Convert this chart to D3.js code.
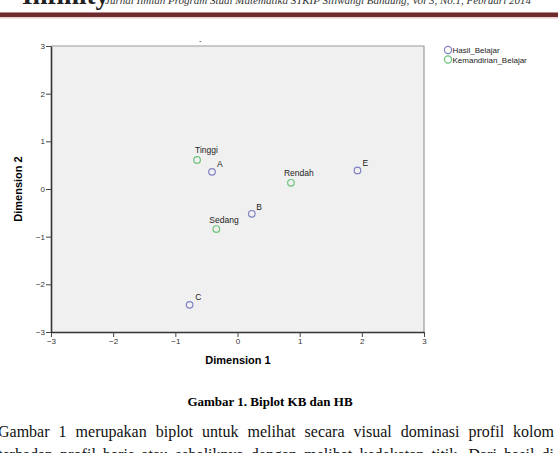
<!DOCTYPE html>
<html>
<head>
<meta charset="utf-8">
<script src="https://cdn.jsdelivr.net/npm/d3@7"></script>
<style>
  body { margin: 0; background: #fff; }
  svg { display: block; }
</style>
</head>
<body>
<div id="page"></div>
<script>
// data
const hasilLabels = ["A", "B", "C", "E"];
const hasilDim1 = [-0.41, 0.23, -0.77, 1.93];
const hasilDim2 = [0.36, -0.52, -2.43, 0.39];

const mandiriLabels = ["Tinggi", "Rendah", "Sedang"];
const mandiriDim1 = [-0.65, 0.86, -0.34];
const mandiriDim2 = [0.61, 0.13, -0.84];

const xTicks = [-3, -2, -1, 0, 1, 2, 3];
const yTicks = [-3, -2, -1, 0, 1, 2, 3];
const legendNames = ["Hasil_Belajar", "Kemandirian_Belajar"];

const W = 558, H = 453;
const margin = {top: 46, left: 51};
const width = 373, height = 286;
const sans = "'Liberation Sans', Arial, sans-serif";
const serif = "'Liberation Serif', 'Times New Roman', serif";
const blue = "#7f82c4", green = "#6cc47a";

const svg = d3.select("#page").append("svg")
  .attr("width", W).attr("height", H);

/* page header (cut off at the top) */
svg.append("text")
  .attr("x", 22).attr("y", 4)
  .style("font-family", serif).style("font-weight", "bold")
  .style("font-size", "27px").attr("fill", "#222")
  .text("Infinity");
svg.append("text")
  .attr("x", 105).attr("y", 4)
  .style("font-family", serif).style("font-style", "italic")
  .style("font-size", "11px").attr("fill", "#333")
  .text("Jurnal Ilmiah Program Studi Matematika STKIP Siliwangi Bandung, Vol 3, No.1, Februari 2014");
svg.append("rect").attr("x", 0).attr("y", 12).attr("width", W).attr("height", 5).attr("fill", "#6e2a2c");
svg.append("rect").attr("x", 0).attr("y", 12).attr("width", W).attr("height", 1).attr("fill", "#b58a8a");
svg.append("rect").attr("x", 0).attr("y", 17.5).attr("width", W).attr("height", 0.8).attr("fill", "#c9a9a9");

/* chart */
const g = svg.append("g")
  .attr("transform", `translate(${margin.left},${margin.top})`);

const xScale = d3.scaleLinear().domain([-3, 3]).range([0, width]);
const yScale = d3.scaleLinear().domain([-3, 3]).range([height, 0]);

g.append("rect")
  .attr("width", width).attr("height", height)
  .attr("fill", "#f0f0f0");
g.append("path")
  .attr("d", `M0,0H${width}V${height}`)
  .attr("fill", "none").attr("stroke", "#9a9a9a").attr("stroke-width", 1.2);

const fmt = d3.format("d");
const xAxis = g.append("g")
  .attr("transform", `translate(0,${height})`)
  .call(d3.axisBottom(xScale).tickValues(xTicks).tickFormat(fmt)
    .tickSize(5).tickSizeOuter(0).tickPadding(1));
const yAxis = g.append("g")
  .call(d3.axisLeft(yScale).tickValues(yTicks).tickFormat(fmt)
    .tickSize(5).tickSizeOuter(0).tickPadding(1));

[xAxis, yAxis].forEach(a => {
  a.select(".domain").attr("stroke", "#333").attr("stroke-width", 1.6);
  a.selectAll(".tick line").attr("stroke", "#444");
  a.selectAll(".tick text")
    .style("font-family", sans).style("font-size", "8px").attr("fill", "#333");
});

/* stray mark above the plot */
svg.append("text").attr("x", 199).attr("y", 43)
  .style("font-family", sans).style("font-size", "8px").attr("fill", "#333").text("-");

/* axis titles */
svg.append("text")
  .attr("x", 238).attr("y", 364)
  .attr("text-anchor", "middle")
  .style("font-family", sans).style("font-weight", "bold").style("font-size", "11px")
  .text("Dimension 1");
svg.append("text")
  .attr("transform", "translate(22,189) rotate(-90)")
  .attr("text-anchor", "middle")
  .style("font-family", sans).style("font-weight", "bold").style("font-size", "11px")
  .text("Dimension 2");

/* label placement relative to each point */
const labelPlacement = {
  A: [5, -5], B: [4.5, -3.5], C: [5.5, -4.5], E: [5, -4],
  Tinggi: [-2, -6.5], Rendah: [-7, -6.5], Sedang: [-7, -6.5]
};

function drawSeries(labels, d1, d2, color) {
  const pts = labels.map((l, i) => ({label: l, x: d1[i], y: d2[i]}));
  const grp = g.append("g");
  grp.selectAll("circle").data(pts).join("circle")
    .attr("cx", d => xScale(d.x)).attr("cy", d => yScale(d.y))
    .attr("r", 3.3).attr("fill", "none")
    .attr("stroke", color).attr("stroke-width", 1.2);
  grp.selectAll("text").data(pts).join("text")
    .attr("x", d => xScale(d.x) + labelPlacement[d.label][0])
    .attr("y", d => yScale(d.y) + labelPlacement[d.label][1])
    .style("font-family", sans).style("font-size", "8.5px").attr("fill", "#222")
    .text(d => d.label);
}
drawSeries(mandiriLabels, mandiriDim1, mandiriDim2, green);
drawSeries(hasilLabels, hasilDim1, hasilDim2, blue);

/* legend */
const legend = svg.append("g").attr("transform", "translate(448,50)");
legendNames.forEach((name, i) => {
  const row = legend.append("g").attr("transform", `translate(0,${i * 9.5})`);
  row.append("circle").attr("r", 3.6).attr("fill", "none")
    .attr("stroke", i === 0 ? blue : green).attr("stroke-width", 1.2);
  row.append("text").attr("x", 4.5).attr("y", 3)
    .style("font-family", sans).style("font-size", "8px").attr("fill", "#222")
    .text(name);
});

/* caption and body text */
svg.append("text")
  .attr("x", 270).attr("y", 406)
  .attr("text-anchor", "middle")
  .style("font-family", serif).style("font-weight", "bold").style("font-size", "13px")
  .text("Gambar 1. Biplot KB dan HB");

// justify body lines by widening word gaps only
function justified(txt, y) {
  const t = svg.append("text")
    .attr("x", -2).attr("y", y)
    .style("font-family", serif).style("font-size", "16px").attr("fill", "#111")
    .text(txt);
  const gaps = txt.split(" ").length - 1;
  const extra = (556 - t.node().getComputedTextLength()) / gaps;
  t.attr("word-spacing", extra);
}
justified("Gambar 1 merupakan biplot untuk melihat secara visual dominasi profil kolom", 437);
justified("terhadap profil baris atau sebaliknya dengan melihat kedekatan titik. Dari hasil di", 460);
</script>
</body>
</html>
